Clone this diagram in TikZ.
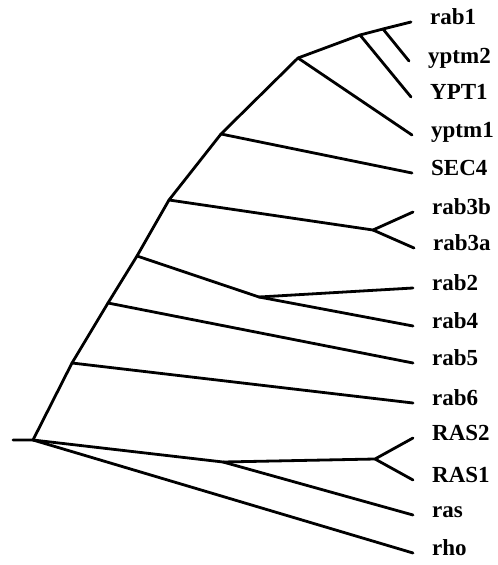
\documentclass[tikz,border=0pt]{standalone}
\usepackage{fontspec}
\setmainfont{Liberation Serif}

\begin{document}
\begin{tikzpicture}[x=1pt,y=-1pt,
    branch/.style={line width=2.8pt,line cap=round,line join=round},
    leaf/.style={anchor=mid west,inner sep=0pt,xshift=19pt,font=\fontsize{23}{27}\selectfont\bfseries}]
  \useasboundingbox (0,0) rectangle (498,565);
  % inner nodes of the tree
  \coordinate (stub) at (13,440);
  \coordinate (root) at (33,440);
  \coordinate (n6) at (72,363);
  \coordinate (n5) at (108,303);
  \coordinate (n24) at (137,256);
  \coordinate (n3) at (169,200);
  \coordinate (nsec) at (221,134);
  \coordinate (nypt) at (298,58);
  \coordinate (nb) at (360,35);
  \coordinate (nc) at (383,29);
  \coordinate (r3) at (373,230);
  \coordinate (r24) at (259,297);
  \coordinate (nx) at (223,462);
  \coordinate (nras) at (375,459);
  % leaves
  \coordinate (rab1) at (411,22);
  \coordinate (yptm2) at (409,61);
  \coordinate (YPT1) at (411,97);
  \coordinate (yptm1) at (412,135);
  \coordinate (SEC4) at (412,173);
  \coordinate (rab3b) at (413,212);
  \coordinate (rab3a) at (414,248);
  \coordinate (rab2) at (413,288);
  \coordinate (rab4) at (413,326);
  \coordinate (rab5) at (413,363);
  \coordinate (rab6) at (413,403);
  \coordinate (RAS2) at (413,438);
  \coordinate (RAS1) at (413,480);
  \coordinate (ras) at (413,515);
  \coordinate (rho) at (413,553);
  \foreach \l in {rab1,yptm2,YPT1,yptm1,SEC4,rab3b,rab3a,rab2,rab4,rab5,rab6,RAS2,RAS1,ras,rho}
    \node[leaf] (lab-\l) at (\l) {\l};
  % spine
  \draw[branch] (stub) -- (root) -- (n6) -- (n5) -- (n24) -- (n3) -- (nsec) -- (nypt) -- (nb) -- (nc) -- (rab1);
  \draw[branch] (nc) -- (yptm2);
  \draw[branch] (nb) -- (YPT1);
  \draw[branch] (nypt) -- (yptm1);
  \draw[branch] (nsec) -- (SEC4);
  \draw[branch] (n3) -- (r3) -- (rab3b);
  \draw[branch] (r3) -- (rab3a);
  \draw[branch] (n24) -- (r24) -- (rab2);
  \draw[branch] (r24) -- (rab4);
  \draw[branch] (n5) -- (rab5);
  \draw[branch] (n6) -- (rab6);
  \draw[branch] (root) -- (nx) -- (nras) -- (RAS2);
  \draw[branch] (nras) -- (RAS1);
  \draw[branch] (nx) -- (ras);
  \draw[branch] (root) -- (rho);
\end{tikzpicture}
\end{document}
